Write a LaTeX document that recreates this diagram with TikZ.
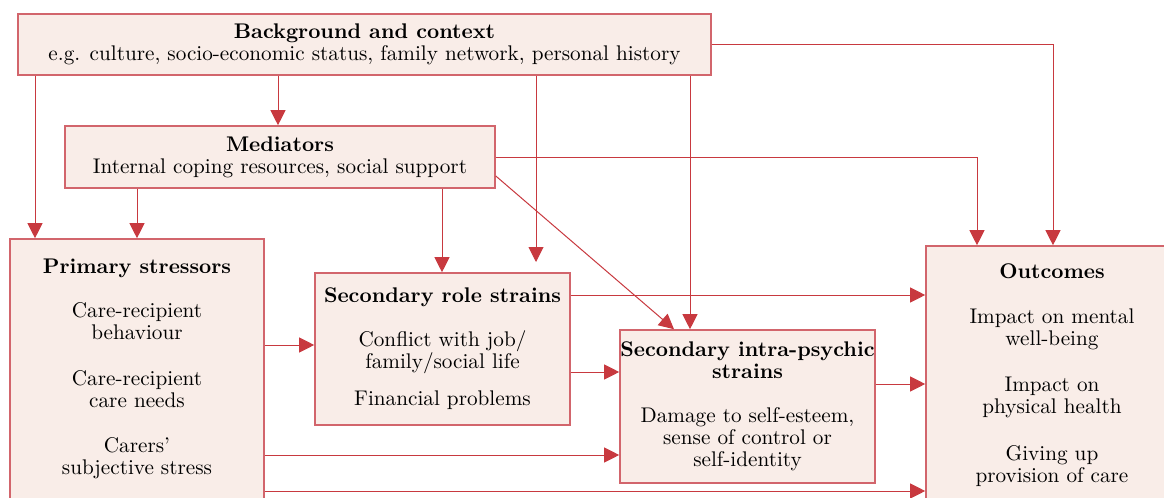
\documentclass[tikz,border=0pt]{standalone}
\usepackage{xcolor}
\usepackage{tikz}
\usetikzlibrary{
    arrows.meta,
    calc
}
\definecolor{boxline}{HTML}{D2656C}
\definecolor{boxfill}{HTML}{F9EDE8}
\definecolor{arrline}{HTML}{C8393F}

\begin{document}
\begin{tikzpicture}[x=0.5pt,y=-0.5pt,>={Triangle[length=7.5pt,width=7.5pt]},
    font=\fontsize{10.6pt}{11pt}\selectfont]
    \tikzstyle{frame}=[draw=boxline, fill=boxfill, line width=0.8pt, inner sep=0pt]
    \tikzstyle{conn}=[draw=arrline, line width=0.5pt, ->]
    \tikzstyle{txt}=[align=center, inner sep=0pt]
    \clip (0,0) rectangle (1164,498);
    \fill[white] (0,0) rectangle (1164,498);
    % boxes
    \node[frame, txt, minimum width=346.5pt, minimum height=30.5pt] (bg) at (364.5, 44.5)
        {\textbf{Background and context}\\e.g. culture, socio-economic status, family network, personal history};
    \node[frame, txt, minimum width=215pt, minimum height=31pt] (med) at (280, 157)
        {\textbf{Mediators}\\Internal coping resources, social support};
    \node[frame, minimum width=127pt, minimum height=150pt] (prim) at (137, 389) {};
    \node[frame, txt, minimum width=127.5pt, minimum height=76pt] (role) at (442.5, 349)
        {\textbf{Secondary role strains}\\[11pt]Conflict with job/\\family/social life\\[7.5pt]Financial problems};
    \node[frame, txt, minimum width=127.5pt, minimum height=76.5pt] (intra) at (747.5, 406.5)
        {\textbf{Secondary intra-psychic}\\\textbf{strains}\\[11pt]Damage to self-esteem,\\sense of control or\\self-identity};
    \node[frame, minimum width=127pt, minimum height=150pt] (out) at (1053, 396) {};
    % texts in the tall boxes
    \node[txt, anchor=north] (primtxt) at (137, 258.5)
        {\textbf{Primary stressors}\\[11pt]Care-recipient\\behaviour\\[12pt]Care-recipient\\care needs\\[11.5pt]Carers'\\subjective stress};
    \node[txt, anchor=north] (outtxt) at (1052, 263.5)
        {\textbf{Outcomes}\\[11.5pt]Impact on mental\\well-being\\[12pt]Impact on\\physical health\\[12.5pt]Giving up\\provision of care};
    \coordinate (gap) at (536, 262);
    % connectors
    \path[conn] (35,0 |- bg.south) -- (35,0 |- prim.north);
    \path[conn] (278,0 |- bg.south) -- (278,0 |- med.north);
    \path[conn] (gap |- bg.south) -- (gap);
    \path[conn] (690,0 |- bg.south) -- (690,0 |- intra.north);
    \path[conn] (bg.east) -| (out.north);
    \path[conn] (137,0 |- med.south) -- (137,0 |- prim.north);
    \path[conn] (442,0 |- med.south) -- (442,0 |- role.north);
    \path[conn] (med.east) -| (977,0 |- out.north);
    \path[conn] (med.east |- 0,176) -- (674,0 |- intra.north);
    \path[conn] (role.east |- 0,295) -- (out.west |- 0,295);
    \path[conn] (role.east |- 0,372) -- (intra.west |- 0,372);
    \path[conn] (prim.east |- 0,345) -- (role.west |- 0,345);
    \path[conn] (prim.east |- 0,455) -- (intra.west |- 0,455);
    \path[conn] (prim.east |- 0,491) -- (out.west |- 0,491);
    \path[conn] (intra.east |- 0,384) -- (out.west |- 0,384);
\end{tikzpicture}
\end{document}
